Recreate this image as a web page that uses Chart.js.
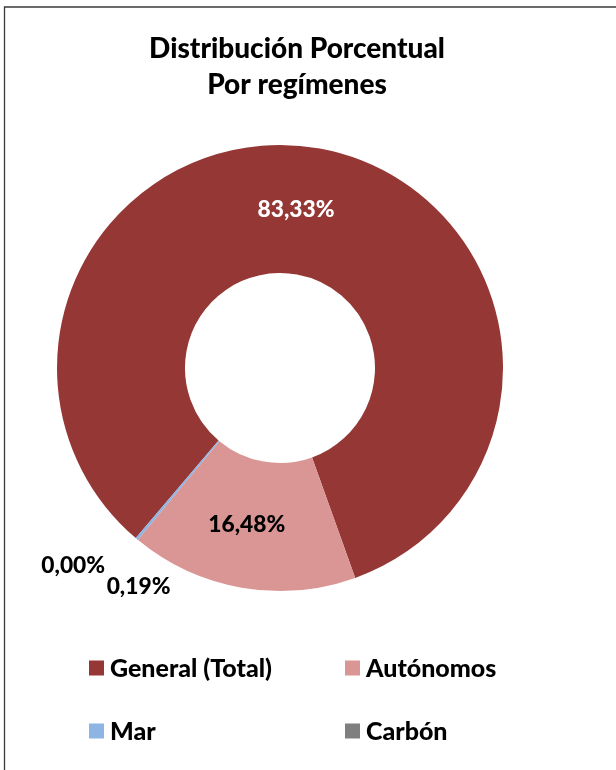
<!DOCTYPE html>
<html>
<head>
<meta charset="utf-8">
<script src="https://cdn.jsdelivr.net/npm/chart.js@4.4.1/dist/chart.umd.min.js"></script>
<style>
  html, body { margin: 0; padding: 0; background: #ffffff; }
  #wrap { position: absolute; left: 0; top: 0; width: 616px; height: 770px; }
</style>
</head>
<body>
<div id="wrap"><canvas id="c" width="616" height="770"></canvas></div>
<script>
// ---- data ----
const titleLines = ['Distribución Porcentual', 'Por regímenes'];
const categories = ['General (Total)', 'Autónomos', 'Mar', 'Carbón'];
const values = [83.33, 16.48, 0.19, 0.00];

// ---- styles ----
const sliceColors = ['#953735', '#D99694', '#8EB4E3', '#7F7F7F'];
const labelColors = ['#ffffff', '#000000', '#000000', '#000000'];
const FONT = 'Lato, "Open Sans", "DejaVu Sans", sans-serif';
const WEIGHT = '900';

function fmt(v) { return v.toFixed(2).replace('.', ',') + '%'; }

function fitSize(ctx, text, targetWidth) {
  ctx.font = WEIGHT + ' 20px ' + FONT;
  const w = ctx.measureText(text).width;
  return 20 * targetWidth / w;
}

const decor = {
  id: 'decor',
  afterDraw(chart) {
    const ctx = chart.ctx;
    ctx.save();
    // frame
    ctx.strokeStyle = '#3a3a3a';
    ctx.lineWidth = 1.3;
    ctx.beginPath();
    ctx.moveTo(4.5, 800); ctx.lineTo(4.5, 7); ctx.lineTo(700, 7);
    ctx.stroke();

    // title
    ctx.fillStyle = '#000000';
    ctx.textAlign = 'center';
    ctx.textBaseline = 'alphabetic';
    const ts = fitSize(ctx, titleLines[0], 296);
    ctx.font = WEIGHT + ' ' + ts + 'px ' + FONT;
    ctx.fillText(titleLines[0], 297, 58);
    ctx.fillText(titleLines[1], 297, 94);

    // legend (2 x 2)
    const ls = fitSize(ctx, categories[0], 162);
    ctx.font = WEIGHT + ' ' + ls + 'px ' + FONT;
    ctx.textAlign = 'left';
    ctx.textBaseline = 'middle';
    const colX = [89, 345];
    const rowY = [668, 731];
    categories.forEach((name, i) => {
      const x = colX[i % 2], y = rowY[Math.floor(i / 2)];
      ctx.fillStyle = sliceColors[i];
      ctx.fillRect(x, y - 7.5, 15, 15);
      ctx.fillStyle = '#000000';
      ctx.fillText(name, x + 21, y + 1);
    });

    // data labels
    const meta = chart.getDatasetMeta(0);
    const ds = fitSize(ctx, fmt(values[0]), 77);
    ctx.font = WEIGHT + ' ' + ds + 'px ' + FONT;
    ctx.textAlign = 'center';
    ctx.textBaseline = 'middle';
    const total = values.reduce((a, b) => a + b, 0);
    const deg = Math.PI / 180;
    meta.data.forEach((arc, i) => {
      const p = arc.getProps(['x', 'y', 'startAngle', 'endAngle', 'innerRadius', 'outerRadius'], true);
      const mid = (p.startAngle + p.endAngle) / 2;
      let ang = mid, r = (p.innerRadius + p.outerRadius) / 2;
      if (values[i] / total < 0.01) {
        // small slices: label placed outside the ring
        if (i === 2) { ang = mid - 7 * deg; r = p.outerRadius + 37; }
        else { ang = mid + 6 * deg; r = p.outerRadius + 63; }
      } else if (i === 0) {
        ang = mid - 4.5 * deg;
      } else {
        ang = mid + 2 * deg; r += 1.5;
      }
      ctx.fillStyle = labelColors[i];
      ctx.fillText(fmt(values[i]), p.x + Math.cos(ang) * r, p.y + Math.sin(ang) * r);
    });
    ctx.restore();
  }
};

new Chart(document.getElementById('c'), {
  type: 'doughnut',
  data: {
    labels: categories,
    datasets: [{
      data: values,
      backgroundColor: sliceColors,
      borderWidth: 0,
      hoverOffset: 0
    }]
  },
  options: {
    responsive: false,
    animation: false,
    rotation: 220.3,
    cutout: '42.6%',
    layout: { padding: { left: 57, right: 113, top: 145, bottom: 179 } },
    plugins: {
      legend: { display: false },
      title: { display: false },
      tooltip: { enabled: false }
    }
  },
  plugins: [decor]
});
</script>
</body>
</html>
